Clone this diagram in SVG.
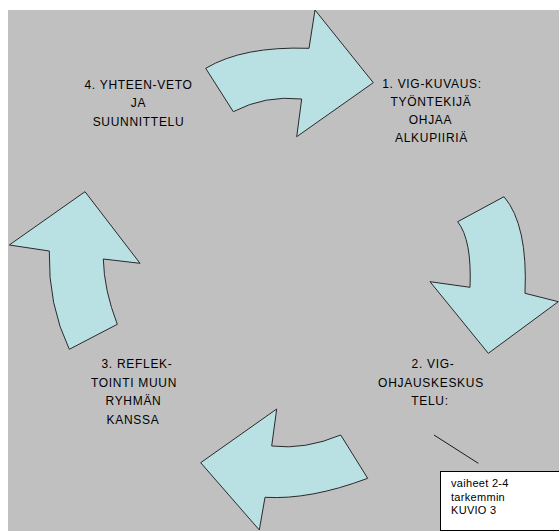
<svg xmlns="http://www.w3.org/2000/svg" width="559" height="531" viewBox="0 0 559 531">
<style>
.arrow{fill:#b9e0e3;stroke:#2a2a2a;stroke-width:1;stroke-linejoin:miter}
.lbl{font-family:"Liberation Sans",Arial,sans-serif;font-size:12px;letter-spacing:0.7px;fill:#000;text-anchor:middle}
.note{font-family:"Liberation Sans",Arial,sans-serif;font-size:11px;letter-spacing:0.3px;fill:#000}
</style>
<rect x="0" y="0" width="559" height="531" fill="#ffffff"/>
<rect x="8" y="10" width="551" height="521" fill="#c0c0c0"/>
<g id="arrow-top">
<path class="arrow" d="M205.7,68.3 Q243,46 309,48.3 L315,10 L373.3,82.7 L296.7,136.7 L301.7,99 Q265,95 233.3,111.7 Z"/>
</g>
<g id="arrow-right">
<path class="arrow" d="M457.7,221.7 L504,196.7 Q528,225 525,293.3 L558.3,301.7 L488.3,353.3 L430,281.7 L470,287.3 Q472,240 457.7,221.7 Z"/>
</g>
<g id="arrow-bottom">
<path class="arrow" d="M340.7,435 L367.7,478.3 Q310,500 265,497.3 L259.3,530 L200.7,462.7 L276.7,409 L271.7,446 Q305,450 340.7,435 Z"/>
</g>
<g id="arrow-left">
<path class="arrow" d="M69.3,349.3 L117.3,324.3 Q104,290 103.3,259 L140,263.3 L85,191.7 L9.3,245 L49.3,251 Q48,305 69.3,349.3 Z"/>
</g>
<g id="node4">
<text class="lbl" x="138.5" y="88.5">4. YHTEEN-VETO</text>
<text class="lbl" x="138.5" y="107">JA</text>
<text class="lbl" x="138.5" y="125.5">SUUNNITTELU</text>
</g>
<g id="node1">
<text class="lbl" x="432" y="87.5">1. VIG-KUVAUS:</text>
<text class="lbl" x="431" y="105.5">TYÖNTEKIJÄ</text>
<text class="lbl" x="430.5" y="123.5">OHJAA</text>
<text class="lbl" x="431.5" y="141.5">ALKUPIIRIÄ</text>
</g>
<g id="node2">
<text class="lbl" x="433" y="368">2. VIG-</text>
<text class="lbl" x="431" y="386.5">OHJAUSKESKUS</text>
<text class="lbl" x="430" y="405">TELU:</text>
</g>
<g id="node3">
<text class="lbl" x="137" y="368">3. REFLEK-</text>
<text class="lbl" x="134" y="386.5">TOINTI MUUN</text>
<text class="lbl" x="133.5" y="405">RYHMÄN</text>
<text class="lbl" x="133" y="423.5">KANSSA</text>
</g>
<g id="connectors">
<line x1="434" y1="435" x2="478.3" y2="463.3" stroke="#1a1a1a" stroke-width="1"/>
</g>
<g id="note">
<rect x="440.5" y="471.5" width="119" height="59" fill="#ffffff" stroke="#000" stroke-width="1"/>
<text class="note" x="451" y="486.5">vaiheet 2-4</text>
<text class="note" x="451" y="500.5">tarkemmin</text>
<text class="note" x="451" y="514">KUVIO 3</text>
</g>
</svg>
